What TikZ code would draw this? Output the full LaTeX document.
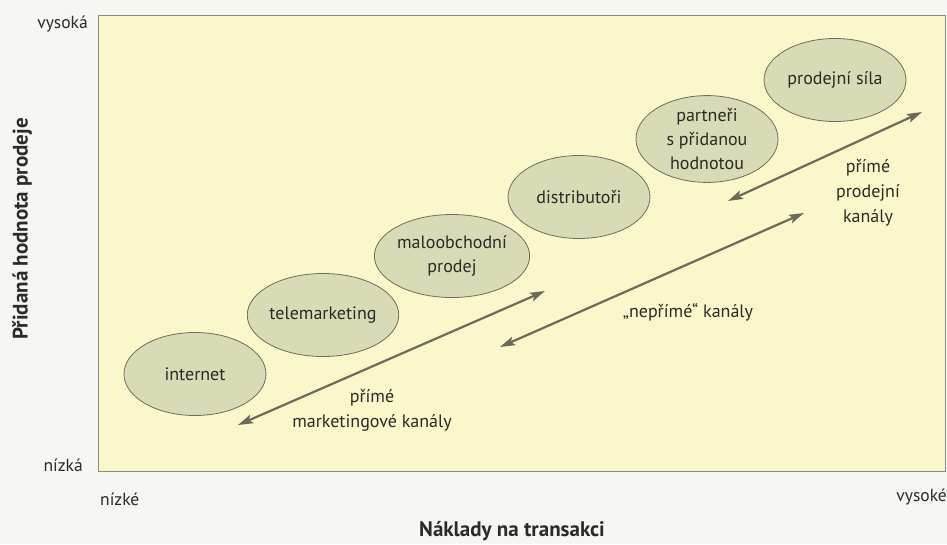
\documentclass[tikz,border=0pt]{standalone}
\usepackage{fontspec}
\setmainfont{PT Sans}
\usetikzlibrary{arrows.meta,shapes.geometric}
\definecolor{bgc}{HTML}{F6F6F3}
\definecolor{panel}{HTML}{FAF7CA}
\definecolor{panelline}{HTML}{8C8A7E}
\definecolor{ellfill}{HTML}{D8DBB6}
\definecolor{ellline}{HTML}{6E6C5C}
\definecolor{arrc}{HTML}{6E6A5A}
\definecolor{txt}{HTML}{2A2A26}
\tikzset{
  lbl/.style={text=txt, inner sep=0pt, align=center, font=\fontsize{18}{25}\selectfont},
  axlbl/.style={text=txt, inner sep=0pt, font=\fontsize{17.5}{22}\selectfont},
  boldlbl/.style={text=txt, inner sep=0pt, font=\bfseries\fontsize{21}{24}\selectfont},
  chan/.style={ellipse, draw=ellline, line width=0.8pt, fill=ellfill,
    minimum width=142pt, minimum height=83pt, inner sep=0pt, align=center,
    text=txt, font=\fontsize{18}{24}\selectfont},
  dblarr/.style={draw=arrc, line width=2.2pt,
    {Stealth[length=15pt,width=9pt,inset=3pt]}-{Stealth[length=15pt,width=9pt,inset=3pt]}}
}
\begin{document}
\begin{tikzpicture}[x=1pt,y=-1pt]
\useasboundingbox[fill=bgc] (0,0) rectangle (947,544);
\path[fill=panel, draw=panelline, line width=1pt] (98,15) rectangle (945,471);

\node[chan] (e1) at (195,374) {internet};
\node[chan] (e2) at (323,315) {telemarketing};
\node[chan] (e3) at (452,256) {maloobchodní\\prodej};
\node[chan] (e4) at (579,197) {distributoři};
\node[chan] (e5) at (707,139) {partneři\\s přidanou\\hodnotou};
\node[chan] (e6) at (835,80) {prodejní síla};

\coordinate (m1) at (238,425);
\coordinate (m2) at (545,291);
\coordinate (n1) at (500,347);
\coordinate (n2) at (804,213);
\coordinate (p1) at (728,201);
\coordinate (p2) at (922,112);
\draw[dblarr] (m1) -- (m2);
\draw[dblarr] (n1) -- (n2);
\draw[dblarr] (p1) -- (p2);

\node[lbl] (lm) at (372,410) {přímé\\marketingové kanály};
\node[lbl] (ln) at (688,312) {„nepřímé“ kanály};
\node[lbl] (lp) at (868,193) {přímé\\prodejní\\kanály};

\node[axlbl, anchor=east] (yhi) at (88,24) {vysoká};
\node[axlbl, anchor=east] (ylo) at (83,465) {nízká};
\node[axlbl, anchor=west] (xlo) at (100,499) {nízké};
\node[axlbl, anchor=east] (xhi) at (947,497) {vysoké};
\node[boldlbl] (xlab) at (512,531) {Náklady na transakci};
\node[boldlbl, rotate=90] (ylab) at (22,229) {Přidaná hodnota prodeje};
\end{tikzpicture}
\end{document}
